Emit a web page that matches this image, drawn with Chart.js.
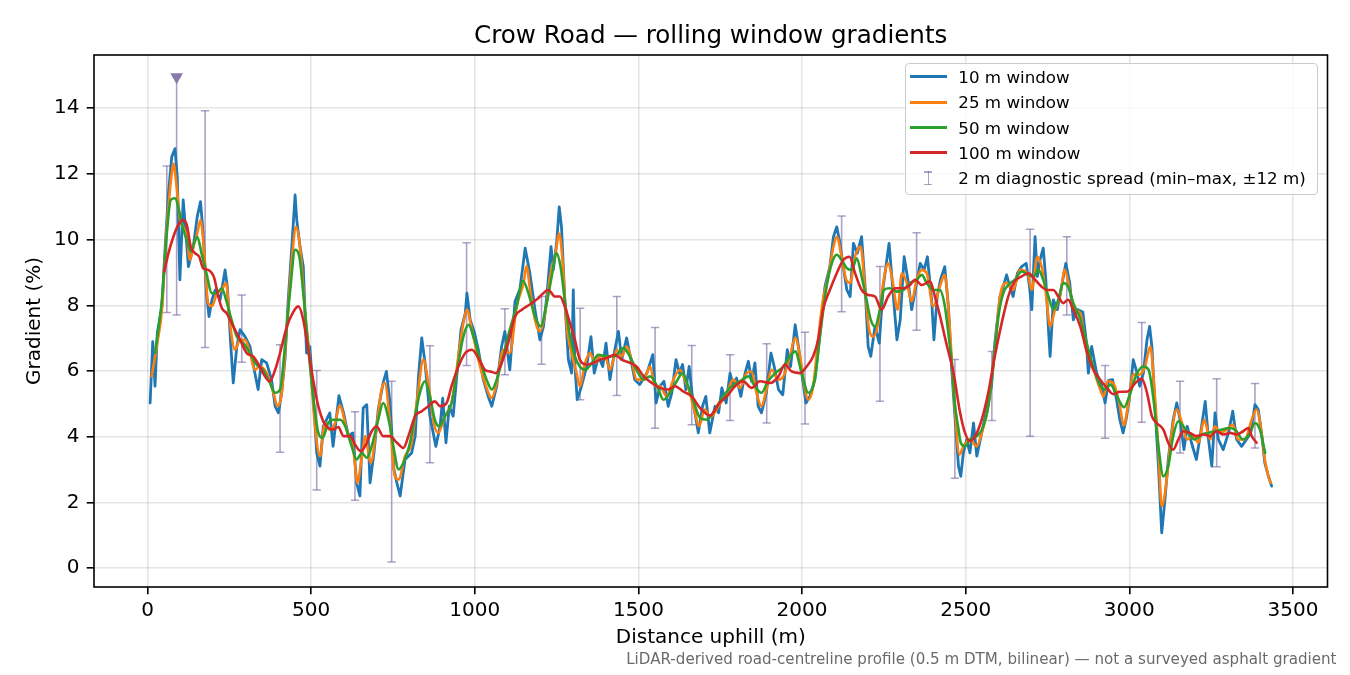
<!DOCTYPE html>
<html>
<head>
<meta charset="utf-8">
<script src="https://cdn.jsdelivr.net/npm/chart.js@4"></script>
<style>
  html, body { margin:0; padding:0; background:#fff; }
  #wrap { position:relative; width:1350px; height:675px; background:#fff; overflow:hidden; font-family:'DejaVu Sans', sans-serif; }
  #c { position:absolute; left:0; top:0; width:1350px; height:675px; }
  #title { position:absolute; left:94px; width:1233.5px; top:22.6px; text-align:center; font-size:24.6px; line-height:24.6px; color:#000; white-space:nowrap; }
  #note { position:absolute; right:13.5px; top:651.6px; font-size:15.1px; line-height:15.1px; color:#6a6a6a; white-space:nowrap; }
  #legend { position:absolute; left:905px; top:62.7px; width:411.3px; height:130.3px; border:1px solid #cccccc; border-radius:4px; background:rgba(255,255,255,0.8); }
  .row { position:absolute; left:905px; height:25.4px; display:flex; align-items:center; font-size:16.7px; color:#000; white-space:nowrap; }
  .sw { position:absolute; left:5px; width:36.7px; height:2.6px; top:11.4px; }
  .lab { position:absolute; left:53.3px; top:0; height:25.4px; display:flex; align-items:center; }
  .eb { position:absolute; left:22.5px; top:5.5px; width:1.6px; height:14.3px; background:rgba(118,100,160,0.6); }
  .cap { position:absolute; left:19.2px; width:8.3px; height:1.5px; background:rgba(118,100,160,0.6); }
</style>
</head>
<body>
<div id="wrap">
  <canvas id="c" width="1350" height="675"></canvas>
  <div id="title"></div>
  <div id="legend"></div>
  <div id="note"></div>
</div>
<script>
// ---------- text ----------
const chartTitle = 'Crow Road — rolling window gradients';
const xLabel = 'Distance uphill (m)';
const yLabel = 'Gradient (%)';
const footNote = 'LiDAR-derived road-centreline profile (0.5 m DTM, bilinear) — not a surveyed asphalt gradient';
const seriesNames = ['10 m window', '25 m window', '50 m window', '100 m window'];
const spreadName = '2 m diagnostic spread (min–max, ±12 m)';

// ---------- ticks ----------
const xTickValues = [0, 500, 1000, 1500, 2000, 2500, 3000, 3500];
const yTickValues = [0, 2, 4, 6, 8, 10, 12, 14];

// ---------- series: [distance m, gradient %] ----------
const window10 = [[8,5.03],[16,6.90],[23,5.54],[30,7.17],[44,7.97],[54,9.79],[64,11.41],[74,12.52],[84,12.77],[91,11.91],[99,8.78],[109,11.21],[114,10.60],[125,9.18],[140,9.79],[152,10.70],[162,11.16],[170,10.19],[180,8.37],[188,7.66],[197,8.17],[207,8.47],[222,8.17],[237,9.08],[244,8.57],[254,6.85],[262,5.64],[273,6.75],[283,7.26],[298,7.05],[313,6.75],[328,5.94],[338,5.44],[349,6.35],[364,6.25],[379,5.74],[390,4.93],[400,4.73],[410,5.34],[420,6.35],[430,8.17],[441,9.79],[451,11.36],[456,10.60],[466,9.79],[476,9.18],[486,6.55],[496,6.75],[506,5.34],[517,3.51],[527,3.11],[537,4.32],[547,4.52],[557,4.73],[567,3.71],[585,5.25],[599,4.73],[614,4.02],[627,4.12],[639,2.60],[649,2.20],[659,4.88],[670,4.98],[680,2.60],[692,3.51],[705,4.83],[720,5.64],[730,5.99],[741,5.03],[753,3.01],[762,2.60],[772,2.20],[787,3.31],[807,3.51],[818,4.02],[828,5.84],[838,7.01],[848,6.25],[863,4.63],[881,3.71],[894,4.32],[902,5.18],[912,3.82],[922,4.93],[934,4.63],[944,5.74],[958,7.26],[971,7.76],[976,8.37],[986,7.56],[998,7.21],[1011,6.65],[1026,5.74],[1041,5.23],[1052,4.93],[1067,5.54],[1082,6.75],[1092,7.21],[1107,6.04],[1123,8.12],[1138,8.50],[1154,9.74],[1168,9.00],[1184,7.87],[1199,6.95],[1210,7.36],[1220,8.27],[1233,9.79],[1240,9.08],[1250,9.89],[1258,11.00],[1265,10.39],[1275,8.17],[1286,6.35],[1296,5.94],[1301,8.47],[1306,6.14],[1313,5.13],[1326,5.54],[1342,6.14],[1355,7.05],[1365,5.94],[1378,6.45],[1391,6.14],[1401,6.85],[1413,5.74],[1428,6.65],[1439,7.21],[1449,6.35],[1464,7.01],[1479,6.25],[1489,5.74],[1504,5.59],[1526,5.94],[1544,6.50],[1554,5.03],[1566,5.54],[1578,5.69],[1591,4.93],[1602,5.34],[1615,6.35],[1625,5.94],[1635,6.20],[1645,5.44],[1655,6.14],[1666,5.13],[1683,4.12],[1696,4.93],[1706,5.23],[1718,4.12],[1734,4.93],[1745,4.73],[1755,5.49],[1768,5.03],[1780,5.94],[1790,5.54],[1800,5.79],[1813,5.23],[1826,5.94],[1836,6.30],[1846,5.69],[1856,6.25],[1866,4.93],[1876,4.73],[1891,5.34],[1905,6.55],[1915,6.14],[1928,5.44],[1941,5.28],[1955,6.65],[1965,6.14],[1979,7.41],[1989,6.75],[1999,5.94],[2012,5.03],[2024,5.23],[2039,5.74],[2055,7.16],[2070,8.57],[2085,9.18],[2096,10.09],[2106,10.39],[2116,9.89],[2126,9.18],[2137,8.47],[2147,8.27],[2157,9.89],[2169,9.59],[2182,10.09],[2192,8.68],[2202,6.75],[2210,6.45],[2223,7.36],[2236,6.85],[2248,8.57],[2266,9.89],[2280,8.17],[2290,6.95],[2300,7.56],[2312,9.48],[2325,8.68],[2335,7.87],[2348,8.57],[2361,9.28],[2373,9.08],[2383,9.48],[2396,8.17],[2403,6.95],[2413,8.27],[2423,8.78],[2436,9.18],[2447,8.00],[2457,6.10],[2468,4.50],[2478,3.11],[2485,2.80],[2493,3.51],[2503,3.92],[2513,3.51],[2524,4.42],[2534,3.41],[2549,4.12],[2564,4.83],[2579,5.54],[2589,6.85],[2605,8.27],[2615,8.57],[2625,8.93],[2635,8.57],[2645,8.27],[2658,8.98],[2671,9.18],[2685,9.28],[2695,8.57],[2702,7.87],[2712,10.09],[2719,8.88],[2727,9.38],[2737,9.74],[2745,8.78],[2753,7.26],[2758,6.45],[2768,8.17],[2780,7.87],[2793,8.57],[2806,9.28],[2818,8.68],[2829,7.56],[2841,7.87],[2858,7.80],[2868,6.95],[2875,5.94],[2885,6.75],[2900,5.94],[2916,5.54],[2926,5.03],[2937,5.72],[2949,5.74],[2961,5.13],[2971,4.52],[2981,4.12],[2990,4.52],[3000,5.13],[3012,6.35],[3022,6.00],[3032,5.54],[3043,5.94],[3054,6.95],[3062,7.36],[3069,6.75],[3079,4.83],[3089,3.11],[3099,1.08],[3109,2.10],[3119,3.31],[3134,4.52],[3145,5.03],[3155,4.52],[3167,3.61],[3177,4.32],[3190,3.82],[3205,3.31],[3218,4.12],[3232,5.08],[3242,3.92],[3252,3.11],[3262,4.73],[3272,3.92],[3287,3.61],[3303,4.12],[3316,4.78],[3328,3.92],[3343,3.71],[3358,3.92],[3371,4.12],[3384,4.98],[3394,4.83],[3404,4.12],[3414,3.21],[3425,2.80],[3435,2.50]];

const window25 = [[13,5.84],[28,6.75],[44,7.87],[59,10.39],[74,12.02],[79,12.32],[89,11.61],[99,10.60],[109,10.39],[120,10.09],[130,9.38],[140,9.79],[152,10.19],[162,10.60],[175,9.38],[185,8.07],[197,7.97],[212,8.37],[227,8.47],[240,8.68],[252,7.46],[267,6.65],[283,6.95],[298,6.95],[313,6.55],[328,6.04],[343,6.14],[364,5.94],[385,5.34],[397,4.93],[410,5.34],[426,7.36],[441,9.38],[454,10.39],[466,9.79],[481,7.87],[496,6.35],[512,4.32],[527,3.41],[542,4.42],[557,4.22],[573,4.42],[587,4.95],[609,4.22],[629,3.61],[641,2.60],[655,3.41],[665,4.02],[682,3.21],[700,4.32],[715,5.44],[725,5.64],[741,4.42],[756,2.80],[767,2.70],[787,3.41],[807,3.82],[825,5.23],[843,6.35],[858,5.64],[875,4.42],[888,4.12],[909,4.63],[929,5.03],[950,6.45],[965,7.46],[976,7.87],[991,7.26],[1011,6.35],[1031,5.64],[1052,5.18],[1067,5.64],[1087,6.65],[1107,6.55],[1128,7.97],[1149,8.68],[1158,9.20],[1169,8.47],[1184,7.56],[1199,7.21],[1215,7.76],[1230,8.88],[1245,9.48],[1258,10.19],[1268,9.38],[1281,7.36],[1296,6.55],[1311,5.94],[1321,5.54],[1337,6.25],[1352,6.55],[1368,6.25],[1383,6.45],[1398,6.45],[1413,6.04],[1434,6.65],[1449,6.45],[1464,6.75],[1479,6.35],[1494,5.74],[1516,5.74],[1536,6.14],[1551,5.54],[1566,5.54],[1586,5.23],[1607,5.74],[1627,6.04],[1642,5.74],[1657,5.34],[1673,4.73],[1685,4.32],[1703,4.83],[1719,4.60],[1746,4.95],[1770,5.34],[1790,5.74],[1810,5.49],[1831,5.94],[1846,5.99],[1861,5.34],[1876,4.93],[1891,5.44],[1907,6.04],[1928,5.74],[1943,5.84],[1963,6.45],[1979,7.01],[1994,6.45],[2009,5.44],[2019,5.13],[2034,5.54],[2049,6.95],[2064,8.17],[2080,8.88],[2096,9.79],[2106,10.09],[2121,9.48],[2135,8.78],[2147,8.68],[2162,9.48],[2179,9.79],[2192,8.57],[2205,7.26],[2218,7.05],[2233,7.46],[2248,8.68],[2263,9.28],[2276,8.78],[2292,7.87],[2305,8.98],[2320,8.68],[2335,8.12],[2350,8.78],[2366,9.08],[2381,8.98],[2401,7.97],[2421,8.57],[2436,8.93],[2449,7.66],[2464,5.30],[2481,3.46],[2493,3.71],[2513,3.92],[2534,3.71],[2549,4.12],[2569,4.93],[2589,6.65],[2605,8.27],[2625,8.68],[2645,8.47],[2666,9.08],[2689,8.98],[2702,8.47],[2719,9.48],[2732,9.18],[2745,8.37],[2758,7.36],[2773,7.87],[2788,8.27],[2803,9.08],[2818,8.47],[2834,7.87],[2850,7.76],[2870,6.60],[2892,6.00],[2909,5.50],[2921,5.23],[2934,5.70],[2953,5.60],[2970,5.00],[2983,4.35],[2997,5.00],[3012,5.90],[3032,5.90],[3048,6.14],[3064,6.75],[3076,5.54],[3089,3.61],[3099,1.89],[3112,2.50],[3127,3.92],[3145,4.83],[3161,4.42],[3176,3.92],[3196,4.02],[3211,3.82],[3229,4.52],[3247,3.92],[3262,4.32],[3277,4.12],[3298,4.22],[3316,4.37],[3333,3.92],[3353,3.92],[3374,4.52],[3389,4.83],[3404,4.12],[3414,3.31],[3425,2.80],[3432,2.60]];

const window50 = [[23,6.55],[44,8.17],[59,10.19],[71,11.21],[84,11.26],[94,11.00],[104,10.50],[120,9.99],[132,9.64],[142,9.89],[152,10.09],[165,9.59],[180,8.98],[197,8.37],[210,8.37],[227,8.52],[240,8.17],[254,7.66],[273,7.05],[293,6.85],[313,6.55],[333,6.20],[353,6.04],[374,5.64],[390,5.34],[405,5.44],[420,6.75],[436,8.47],[451,9.69],[464,9.48],[476,8.37],[491,6.75],[506,5.23],[522,4.12],[535,3.97],[552,4.42],[567,4.52],[589,4.52],[604,4.32],[624,3.71],[639,3.31],[655,3.51],[670,3.36],[688,3.82],[705,4.52],[720,5.03],[739,4.42],[753,3.61],[767,3.01],[782,3.21],[802,3.82],[821,4.83],[835,5.44],[848,5.69],[863,5.23],[878,4.52],[891,4.32],[909,4.63],[929,5.03],[950,6.25],[965,7.05],[981,7.41],[996,7.05],[1016,6.35],[1036,5.74],[1052,5.44],[1067,5.74],[1087,6.45],[1107,7.26],[1128,7.97],[1147,8.75],[1164,8.37],[1184,7.66],[1201,7.36],[1220,8.07],[1235,8.88],[1250,9.59],[1262,9.18],[1275,8.17],[1291,7.05],[1306,6.45],[1321,6.14],[1337,6.04],[1358,6.25],[1378,6.50],[1403,6.45],[1428,6.45],[1454,6.70],[1474,6.45],[1494,6.04],[1516,5.74],[1536,5.84],[1557,5.54],[1577,5.13],[1597,5.34],[1617,5.69],[1635,5.94],[1652,5.54],[1667,5.13],[1688,4.58],[1709,4.52],[1731,4.78],[1759,5.23],[1785,5.54],[1810,5.69],[1836,5.84],[1856,5.54],[1876,5.34],[1896,5.69],[1918,5.94],[1943,6.14],[1963,6.45],[1979,6.60],[1999,5.94],[2019,5.34],[2039,5.74],[2056,7.16],[2075,8.57],[2091,9.28],[2106,9.54],[2121,9.38],[2137,9.13],[2152,9.08],[2167,9.43],[2182,8.88],[2197,8.17],[2210,7.56],[2223,7.36],[2238,7.87],[2250,8.47],[2268,8.52],[2290,8.42],[2310,8.47],[2330,8.68],[2350,8.78],[2366,8.93],[2381,8.68],[2401,8.47],[2421,8.47],[2436,8.00],[2449,7.00],[2459,6.10],[2467,5.00],[2477,4.30],[2485,3.82],[2498,3.71],[2513,3.92],[2534,4.02],[2554,4.32],[2569,4.93],[2584,6.14],[2600,7.66],[2615,8.37],[2630,8.62],[2650,8.78],[2671,9.03],[2692,8.93],[2707,8.88],[2722,9.08],[2737,8.78],[2753,8.27],[2768,7.87],[2783,8.17],[2798,8.68],[2813,8.57],[2829,8.07],[2850,7.60],[2870,6.85],[2885,6.30],[2907,5.64],[2926,5.44],[2943,5.59],[2956,5.38],[2969,5.10],[2984,4.90],[3002,5.30],[3022,5.90],[3043,6.14],[3059,6.04],[3074,5.13],[3089,3.71],[3104,2.80],[3119,3.11],[3134,4.02],[3150,4.47],[3165,4.32],[3180,4.12],[3200,3.92],[3222,4.07],[3242,4.12],[3262,4.17],[3283,4.22],[3303,4.27],[3323,4.22],[3348,3.92],[3369,4.12],[3384,4.42],[3399,4.22],[3415,3.51]];

const window100 = [[51,9.03],[64,9.59],[79,10.09],[94,10.45],[109,10.60],[120,10.45],[132,9.79],[145,9.59],[158,9.48],[170,9.13],[185,9.08],[204,8.83],[214,8.37],[227,7.92],[242,7.76],[262,7.36],[283,6.95],[303,6.55],[323,6.45],[343,6.14],[359,5.84],[374,5.69],[390,6.04],[405,6.55],[426,7.36],[446,7.81],[461,7.97],[476,7.56],[491,6.65],[506,5.74],[522,4.93],[537,4.47],[552,4.27],[567,4.22],[583,4.30],[599,4.02],[619,4.02],[634,3.77],[652,3.56],[670,3.82],[685,4.17],[700,4.32],[720,4.02],[741,4.02],[762,3.82],[782,3.66],[797,4.02],[818,4.63],[838,4.78],[858,4.93],[878,5.08],[894,4.93],[914,5.03],[929,5.54],[950,6.14],[971,6.55],[991,6.65],[1011,6.40],[1031,6.04],[1047,5.99],[1065,5.94],[1082,6.25],[1102,6.85],[1123,7.66],[1144,7.87],[1167,8.02],[1194,8.22],[1225,8.47],[1245,8.27],[1260,8.27],[1275,7.97],[1291,7.46],[1306,6.95],[1321,6.35],[1342,6.20],[1363,6.25],[1383,6.35],[1403,6.40],[1428,6.50],[1449,6.35],[1474,6.25],[1494,6.14],[1516,5.84],[1541,5.64],[1566,5.49],[1591,5.44],[1612,5.54],[1637,5.38],[1663,5.23],[1688,4.88],[1719,4.65],[1747,5.03],[1770,5.23],[1795,5.54],[1820,5.69],[1846,5.49],[1871,5.69],[1903,5.64],[1928,5.84],[1948,6.20],[1968,5.99],[1994,5.94],[2014,6.14],[2034,6.45],[2049,6.95],[2064,7.87],[2085,8.47],[2106,8.98],[2126,9.38],[2145,9.48],[2162,8.98],[2182,8.47],[2202,8.32],[2223,8.27],[2243,7.87],[2263,8.27],[2285,8.52],[2310,8.52],[2330,8.62],[2345,8.78],[2366,8.62],[2391,8.73],[2406,8.27],[2421,7.70],[2442,6.80],[2463,5.94],[2483,4.73],[2498,4.12],[2513,3.87],[2529,4.02],[2549,4.52],[2569,5.34],[2589,6.45],[2610,7.46],[2630,8.27],[2650,8.73],[2671,8.88],[2692,8.98],[2712,8.78],[2732,8.57],[2748,8.47],[2768,8.47],[2783,8.27],[2798,8.07],[2813,8.17],[2829,7.87],[2850,7.36],[2870,6.60],[2890,6.05],[2911,5.74],[2931,5.50],[2951,5.30],[2971,5.37],[2995,5.38],[3017,5.62],[3038,5.77],[3054,5.34],[3069,4.63],[3084,4.42],[3104,4.22],[3119,3.82],[3134,3.61],[3150,3.92],[3165,4.17],[3185,4.12],[3205,4.02],[3227,4.07],[3247,4.02],[3267,4.17],[3287,4.07],[3308,4.12],[3328,4.07],[3348,4.17],[3364,4.27],[3374,4.02],[3389,3.82]];

// ---------- 2 m diagnostic spread (min / max) ----------
const spreadX  = [59, 89, 176, 288, 405, 517, 634, 746, 863, 975, 1092, 1204, 1322, 1434, 1551, 1663, 1780, 1892, 2009, 2121, 2238, 2350, 2467, 2580, 2697, 2809, 2926, 3038, 3155, 3267, 3384];
const spreadLo = [7.78, 7.71, 6.72, 6.27, 3.53, 2.38, 2.07, 0.19, 3.21, 6.17, 5.89, 6.21, 5.13, 5.26, 4.26, 4.37, 4.50, 4.42, 4.39, 7.81, 5.08, 7.24, 2.74, 4.50, 4.02, 7.71, 3.96, 4.44, 3.51, 3.09, 3.66];
const spreadHi = [12.24, 14.95, 13.92, 8.32, 6.80, 6.02, 4.76, 5.69, 6.77, 9.91, 7.90, 8.27, 7.91, 8.27, 7.33, 6.78, 6.50, 6.83, 7.18, 10.72, 9.18, 10.21, 6.35, 6.60, 10.32, 10.09, 6.17, 7.48, 5.69, 5.77, 5.62];

// peak marker
const peakX = [89];
const peakY = [14.95];

// ---------- styling ----------
const lineColors = ['#1f77b4', '#ff7f0e', '#2ca02c', '#d62728'];
const lineWidths = [2.8, 2.6, 2.6, 2.6];
const spreadColor = 'rgba(118,100,160,0.6)';
const peakColor = '#887aaa';
const FONT = 'DejaVu Sans';

// ---------- build datasets ----------
const toPts = arr => arr.map(p => ({x: p[0], y: p[1]}));
const seriesData = [window10, window25, window50, window100];

const spreadSegments = [];
const spreadCaps = [];
spreadX.forEach((x, i) => {
  spreadSegments.push({x, y: spreadLo[i]}, {x, y: spreadHi[i]}, {x, y: null});
  spreadCaps.push({x, y: spreadLo[i]}, {x, y: spreadHi[i]});
});

const datasets = [];
datasets.push({
  label: spreadName, data: spreadSegments, borderColor: spreadColor, borderWidth: 1.6,
  pointRadius: 0, spanGaps: false, order: 10, tension: 0
});
datasets.push({
  label: spreadName + ' caps', data: spreadCaps, showLine: false, pointStyle: 'line',
  pointRadius: 4.15, pointBorderWidth: 1.5, pointBorderColor: spreadColor, pointBackgroundColor: spreadColor, order: 9
});
seriesData.forEach((arr, i) => {
  datasets.push({
    label: seriesNames[i], data: toPts(arr), borderColor: lineColors[i], backgroundColor: lineColors[i],
    borderWidth: lineWidths[i], pointRadius: 0, fill: false, order: 5 - i,
    tension: i === 0 ? 0 : 0.4, cubicInterpolationMode: i === 0 ? 'default' : 'monotone',
    borderJoinStyle: 'round', borderCapStyle: 'round'
  });
});
datasets.push({
  label: 'peak', data: peakX.map((x, i) => ({x, y: peakY[i]})), showLine: false,
  pointStyle: 'triangle', rotation: 180, pointRadius: 7.3, pointBackgroundColor: peakColor,
  pointBorderColor: peakColor, pointBorderWidth: 0, order: 0
});

// ---------- plugin: axes frame ----------
const framePlugin = {
  id: 'frame',
  afterDatasetsDraw(chart) {
    const {ctx, chartArea: a} = chart;
    ctx.save();
    ctx.strokeStyle = '#000';
    ctx.lineWidth = 1.6;
    ctx.strokeRect(a.left, a.top, a.right - a.left, a.bottom - a.top);
    ctx.restore();
  }
};

Chart.defaults.font.family = FONT;

const gridOpts = {
  color: 'rgba(0,0,0,0.1)', lineWidth: 1.6, drawTicks: true,
  tickLength: 7.3, tickWidth: 1.6, tickColor: '#000'
};

new Chart(document.getElementById('c'), {
  type: 'line',
  data: { datasets },
  options: {
    responsive: false,
    animation: false,
    parsing: true,
    normalized: true,
    layout: { padding: { top: 55, right: 22.5, bottom: 0, left: 0 } },
    plugins: { legend: { display: false }, tooltip: { enabled: false }, title: { display: false } },
    scales: {
      x: {
        type: 'linear', min: -163.5, max: 3605.6,
        afterBuildTicks: s => { s.ticks = xTickValues.map(v => ({value: v})); },
        afterFit: s => { s.height = 88; },
        grid: gridOpts,
        border: { display: false },
        ticks: { font: { family: FONT, size: 20 }, color: '#000', padding: 4.5, maxRotation: 0, autoSkip: false,
                 callback: v => String(v) },
        title: { display: true, text: xLabel, color: '#000', font: { family: FONT, size: 20 },
                 padding: { top: 0, bottom: 25.6 } }
      },
      y: {
        type: 'linear', min: -0.57, max: 15.62,
        afterBuildTicks: s => { s.ticks = yTickValues.map(v => ({value: v})); },
        afterFit: s => { s.width = 94; },
        grid: gridOpts,
        border: { display: false },
        ticks: { font: { family: FONT, size: 20 }, color: '#000', padding: 7.3, autoSkip: false,
                 callback: v => String(v) },
        title: { display: true, text: yLabel, color: '#000', font: { family: FONT, size: 20 },
                 padding: { top: 22.5, bottom: 0 } }
      }
    }
  },
  plugins: [framePlugin]
});

// ---------- HTML text: title, footnote, legend ----------
document.getElementById('title').textContent = chartTitle;
document.getElementById('note').textContent = footNote;

const wrap = document.getElementById('wrap');
const rowCenters = [76.7, 102.3, 127.7, 152.7, 178.3];
seriesNames.forEach((name, i) => {
  const row = document.createElement('div');
  row.className = 'row';
  row.style.top = (rowCenters[i] - 12.7) + 'px';
  row.style.width = '411px';
  const sw = document.createElement('div');
  sw.className = 'sw';
  sw.style.background = lineColors[i];
  const lab = document.createElement('div');
  lab.className = 'lab';
  lab.textContent = name;
  row.appendChild(sw); row.appendChild(lab);
  wrap.appendChild(row);
});
{
  const row = document.createElement('div');
  row.className = 'row';
  row.style.top = (rowCenters[4] - 12.7) + 'px';
  row.style.width = '411px';
  const eb = document.createElement('div'); eb.className = 'eb';
  const c1 = document.createElement('div'); c1.className = 'cap'; c1.style.top = '5.5px';
  const c2 = document.createElement('div'); c2.className = 'cap'; c2.style.top = '18.3px';
  const lab = document.createElement('div'); lab.className = 'lab'; lab.textContent = spreadName;
  row.appendChild(eb); row.appendChild(c1); row.appendChild(c2); row.appendChild(lab);
  wrap.appendChild(row);
}
</script>
</body>
</html>
